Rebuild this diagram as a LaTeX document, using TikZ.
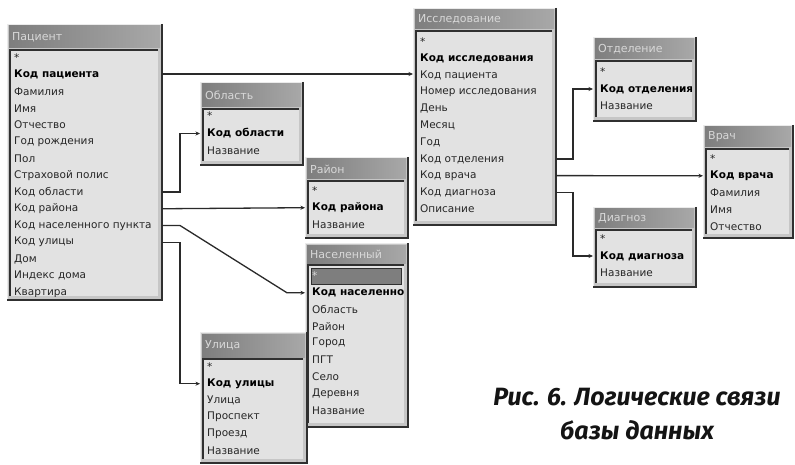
\documentclass[tikz,border=0pt]{standalone}
\usepackage{fontspec}
\setmainfont{DejaVu Sans}
\newfontfamily\capfont{Fira Sans}
\usetikzlibrary{calc,arrows.meta}
\definecolor{framec}{HTML}{C6C6C6}
\definecolor{listbg}{HTML}{E2E2E2}
\definecolor{edgec}{HTML}{303030}
\definecolor{tbarL}{HTML}{7E7E7E}
\definecolor{tbarR}{HTML}{A8A8A8}
\definecolor{ttext}{HTML}{D8D8D8}
\definecolor{linec}{HTML}{2A2A2A}
\definecolor{selbar}{HTML}{7E7E7E}

\tikzset{
 x=1pt, y=-1pt,
 tabbox/.style={draw=none, fill=framec, inner sep=0pt, outer sep=0pt},
 rowtxt/.style={font=\fontsize{10.5}{12}\selectfont, text=black!85, inner sep=0pt, anchor=west},
 keytxt/.style={font=\fontsize{10.5}{12}\selectfont\bfseries, text=black, inner sep=0pt, anchor=west},
 titletxt/.style={font=\fontsize{11}{12}\selectfont, text=ttext, inner sep=0pt, anchor=west},
 conn/.style={draw=linec, line width=1.3pt, -{Stealth[length=4.5pt,width=4pt]}},
}

% #1 name, #2 x, #3 y, #4 w, #5 h, #6 title height, #7 title
\newcommand\dbtab[7]{%
 \node[tabbox, minimum width=#4pt, minimum height=#5pt, anchor=north west] (#1) at (#2,#3) {};
 \draw[white!92!black, line width=0.8pt] (#1.south west) -- (#1.north west) -- (#1.north east);
 \draw[edgec, line width=1.8pt] (#1.north east) -- (#1.south east) -- (#1.south west);
 \shade[left color=tbarL, right color=tbarR] ($(#1.north west)+(2,2)$) rectangle ($(#1.north east)+(-2,#6)$);
 \node[titletxt] (#1-t) at ($(#1.north west)+(5,{#6/2+1})$) {#7};
 \fill[listbg] ($(#1.north west)+(3,{#6+2})$) rectangle ($(#1.south east)+(-4,-4)$);
 \draw[edgec, line width=1.2pt] ($(#1.south west)+(3,-4)$) -- ($(#1.north west)+(3,{#6+2})$) -- ($(#1.north east)+(-4,{#6+2})$);
}
% #1 name, #2 x, #3 first row y, #4 row step, #5 style of first row, #6 rows
\newcommand\dbrows[6]{%
 \begin{scope}
 \clip ($(#1.north west)+(4,0)$) rectangle ($(#1.south east)+(-5,-4)$);
 \foreach \t [count=\i] in {#6} {
   \ifnum\i=1
     \node[rowtxt,#5] (#1-\i) at ({#2+7},{#3}) {\t};
   \else\ifnum\i=2
     \node[keytxt] (#1-\i) at ({#2+7},{#3+(\i-1)*#4}) {\t};
   \else
     \node[rowtxt] (#1-\i) at ({#2+7},{#3+(\i-1)*#4}) {\t};
   \fi\fi
 }
 \end{scope}
}

\begin{document}
\begin{tikzpicture}
\useasboundingbox (0,0) rectangle (795,465);
\fill[white] (0,0) rectangle (795,465);

% Пациент
\dbtab{pac}{7}{24}{155}{276}{24}{Пациент}
\dbrows{pac}{7}{58}{16.75}{}{*,Код пациента,Фамилия,Имя,Отчество,Год рождения,Пол,Страховой полис,Код области,Код района,Код населенного пункта,Код улицы,Дом,Индекс дома,Квартира}

% Область
\dbtab{obl}{200}{82}{103}{83}{25}{Область}
\dbrows{obl}{200}{116}{17.5}{}{*,Код области,Название}

% Район
\dbtab{rai}{305}{157}{103}{81}{22}{Район}
\dbrows{rai}{305}{191}{16.7}{}{*,Код района,Название}

% Населенный
\dbtab{nas}{305}{243}{103}{184}{20}{Населенный}
\draw[fill=selbar, draw=edgec, line width=1pt] (311,268) rectangle (401,284);
\dbrows{nas}{305}{276}{16.8}{text=white!85!black}{*,Код населенного,Область,Район,Город,ПГТ,Село,Деревня,Название}

% Улица
\dbtab{ul}{200}{332}{107}{131}{25}{Улица}
\dbrows{ul}{200}{367}{16.7}{}{*,Код улицы,Улица,Проспект,Проезд,Название}

% Исследование
\dbtab{isl}{413}{8}{143}{217}{21}{Исследование}
\dbrows{isl}{413}{42}{16.7}{}{*,Код исследования,Код пациента,Номер исследования,День,Месяц,Год,Код отделения,Код врача,Код диагноза,Описание}

% Отделение
\dbtab{otd}{593}{37}{103}{84}{22}{Отделение}
\dbrows{otd}{593}{72}{17}{}{*,Код отделения,Название}

% Врач
\dbtab{vr}{703}{125}{90}{113}{22}{Врач}
\dbrows{vr}{703}{159}{16.8}{}{*,Код врача,Фамилия,Имя,Отчество}

% Диагноз
\dbtab{dia}{593}{207}{103}{80}{21}{Диагноз}
\dbrows{dia}{593}{239}{17}{}{*,Код диагноза,Название}

% connectors
\draw[conn] (pac.east |- 0,74) -- (isl.west |- 0,74);
\draw[conn] (pac-9 -| pac.east) -- ++(18,0) |- (obl-2 -| obl.west);
\draw[conn] (pac-10 -| pac.east) -- (rai-2 -| rai.west);
\draw[conn] (pac-11 -| pac.east) -- ++(18,0) -- ($(nas-2 -| nas.west)+(-18,0)$) -- (nas-2 -| nas.west);
\draw[conn] (pac-12 -| pac.east) -- ++(18,0) |- (ul-2 -| ul.west);
\draw[conn] (isl-8 -| isl.east) -- ++(17,0) |- (otd-2 -| otd.west);
\draw[conn] (isl-9 -| isl.east) -- (vr-2 -| vr.west);
\draw[conn] (isl-10 -| isl.east) -- ++(17,0) |- (dia-2 -| dia.west);

% caption
\node[font=\capfont\bfseries\itshape\fontsize{25}{34}\selectfont, align=center, text=black!92] (cap) at (637,414) {Рис. 6. Логические связи\\базы данных};
\end{tikzpicture}
\end{document}
